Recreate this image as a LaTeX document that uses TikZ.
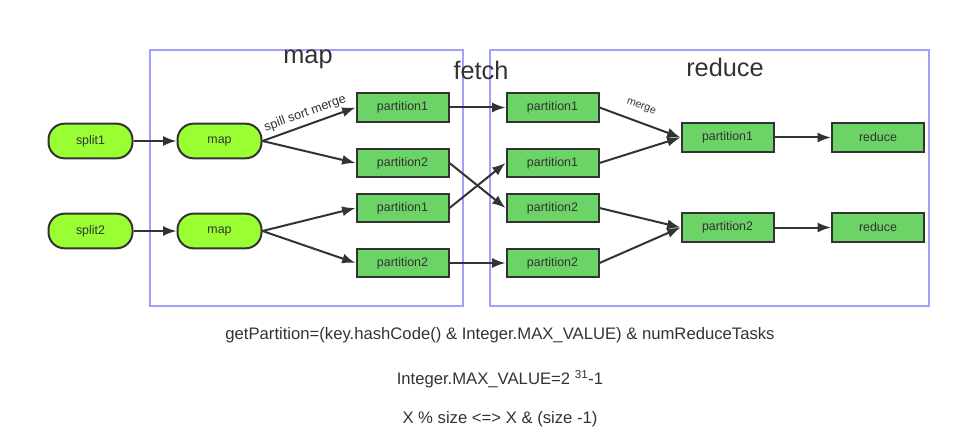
\documentclass[tikz,border=0pt]{standalone}
\usepackage{fontspec}
\setmainfont{Liberation Sans}
\usetikzlibrary{arrows.meta}
\definecolor{stageblue}{HTML}{A0A0FF}
\definecolor{inkgray}{HTML}{333333}
\definecolor{limefill}{HTML}{99FF33}
\definecolor{partfill}{HTML}{6CD366}

\begin{document}
\begin{tikzpicture}[x=0.75pt,y=-0.75pt,
  stage/.style={draw=stageblue,line width=1.5pt},
  title/.style={font=\fontsize{19}{22}\selectfont,text=inkgray},
  task/.style={draw=inkgray,line width=1.5pt,fill=limefill,rounded corners=12pt,
    minimum width=63pt,minimum height=26pt,font=\fontsize{9.3}{11}\selectfont,text=inkgray},
  part/.style={draw=inkgray,line width=1.5pt,fill=partfill,
    minimum width=69pt,minimum height=21.5pt,font=\fontsize{9.3}{11}\selectfont,text=inkgray},
  flow/.style={draw=inkgray,line width=1.5pt,-{Latex[length=10pt,width=7.5pt]}},
  note/.style={font=\fontsize{12.5}{15}\selectfont,text=inkgray}]
\useasboundingbox (0,0) rectangle (961,435);
\draw[stage] (150,50) rectangle (463,306);
\draw[stage] (490,50) rectangle (929,306);
\node[title] (tmap) at (308,59) {map};
\node[title] (tfetch) at (481,70) {fetch};
\node[title] (treduce) at (725,67) {reduce};

\node[task] (split1) at (90.5,141) {split1};
\node[task] (split2) at (90.5,231) {split2};
\node[task] (map1) at (219.5,141) {map};
\node[task] (map2) at (219.5,231) {map};

\node[part] (mp1) at (402.5,107.5) {partition1};
\node[part] (mp2) at (402.5,163) {partition2};
\node[part] (mp3) at (402.5,208) {partition1};
\node[part] (mp4) at (402.5,263) {partition2};

\node[part] (fp1) at (552.5,107.5) {partition1};
\node[part] (fp2) at (552.5,163) {partition1};
\node[part] (fp3) at (552.5,208) {partition2};
\node[part] (fp4) at (552.5,263) {partition2};

\node[part] (rp1) at (727.5,137.5) {partition1};
\node[part] (rp2) at (727.5,227.5) {partition2};
\node[part] (red1) at (878,137.5) {reduce};
\node[part] (red2) at (878,227.5) {reduce};

\draw[flow] (split1) -- (map1);
\draw[flow] (split2) -- (map2);
\draw[flow] (map1.east) -- node[sloped,above,font=\fontsize{9.5}{11}\selectfont,text=inkgray,pos=0.5] {spill sort merge} (mp1.west);
\draw[flow] (map1.east) -- (mp2.west);
\draw[flow] (map2.east) -- (mp3.west);
\draw[flow] (map2.east) -- (mp4.west);

\draw[flow] (mp1) -- (fp1);
\draw[flow] (mp2.east) -- (fp3.west);
\draw[flow] (mp3.east) -- (fp2.west);
\draw[flow] (mp4) -- (fp4);

\draw[flow] (fp1.east) -- node[sloped,above=4pt,pos=0.45,font=\fontsize{8}{9}\selectfont,text=inkgray] {merge} (rp1.west);
\draw[flow] (fp2.east) -- (rp1.west);
\draw[flow] (fp3.east) -- (rp2.west);
\draw[flow] (fp4.east) -- (rp2.west);
\draw[flow] (rp1) -- (red1);
\draw[flow] (rp2) -- (red2);

\node[note] (formula) at (500,335) {getPartition=(key.hashCode() \& Integer.MAX\_VALUE) \& numReduceTasks};
\node[note] (maxval) at (500,379) {Integer.MAX\_VALUE=2 \textsuperscript{31}-1};
\node[note] (modrule) at (500,419) {X \% size <=> X \& (size -1)};
\end{tikzpicture}
\end{document}
